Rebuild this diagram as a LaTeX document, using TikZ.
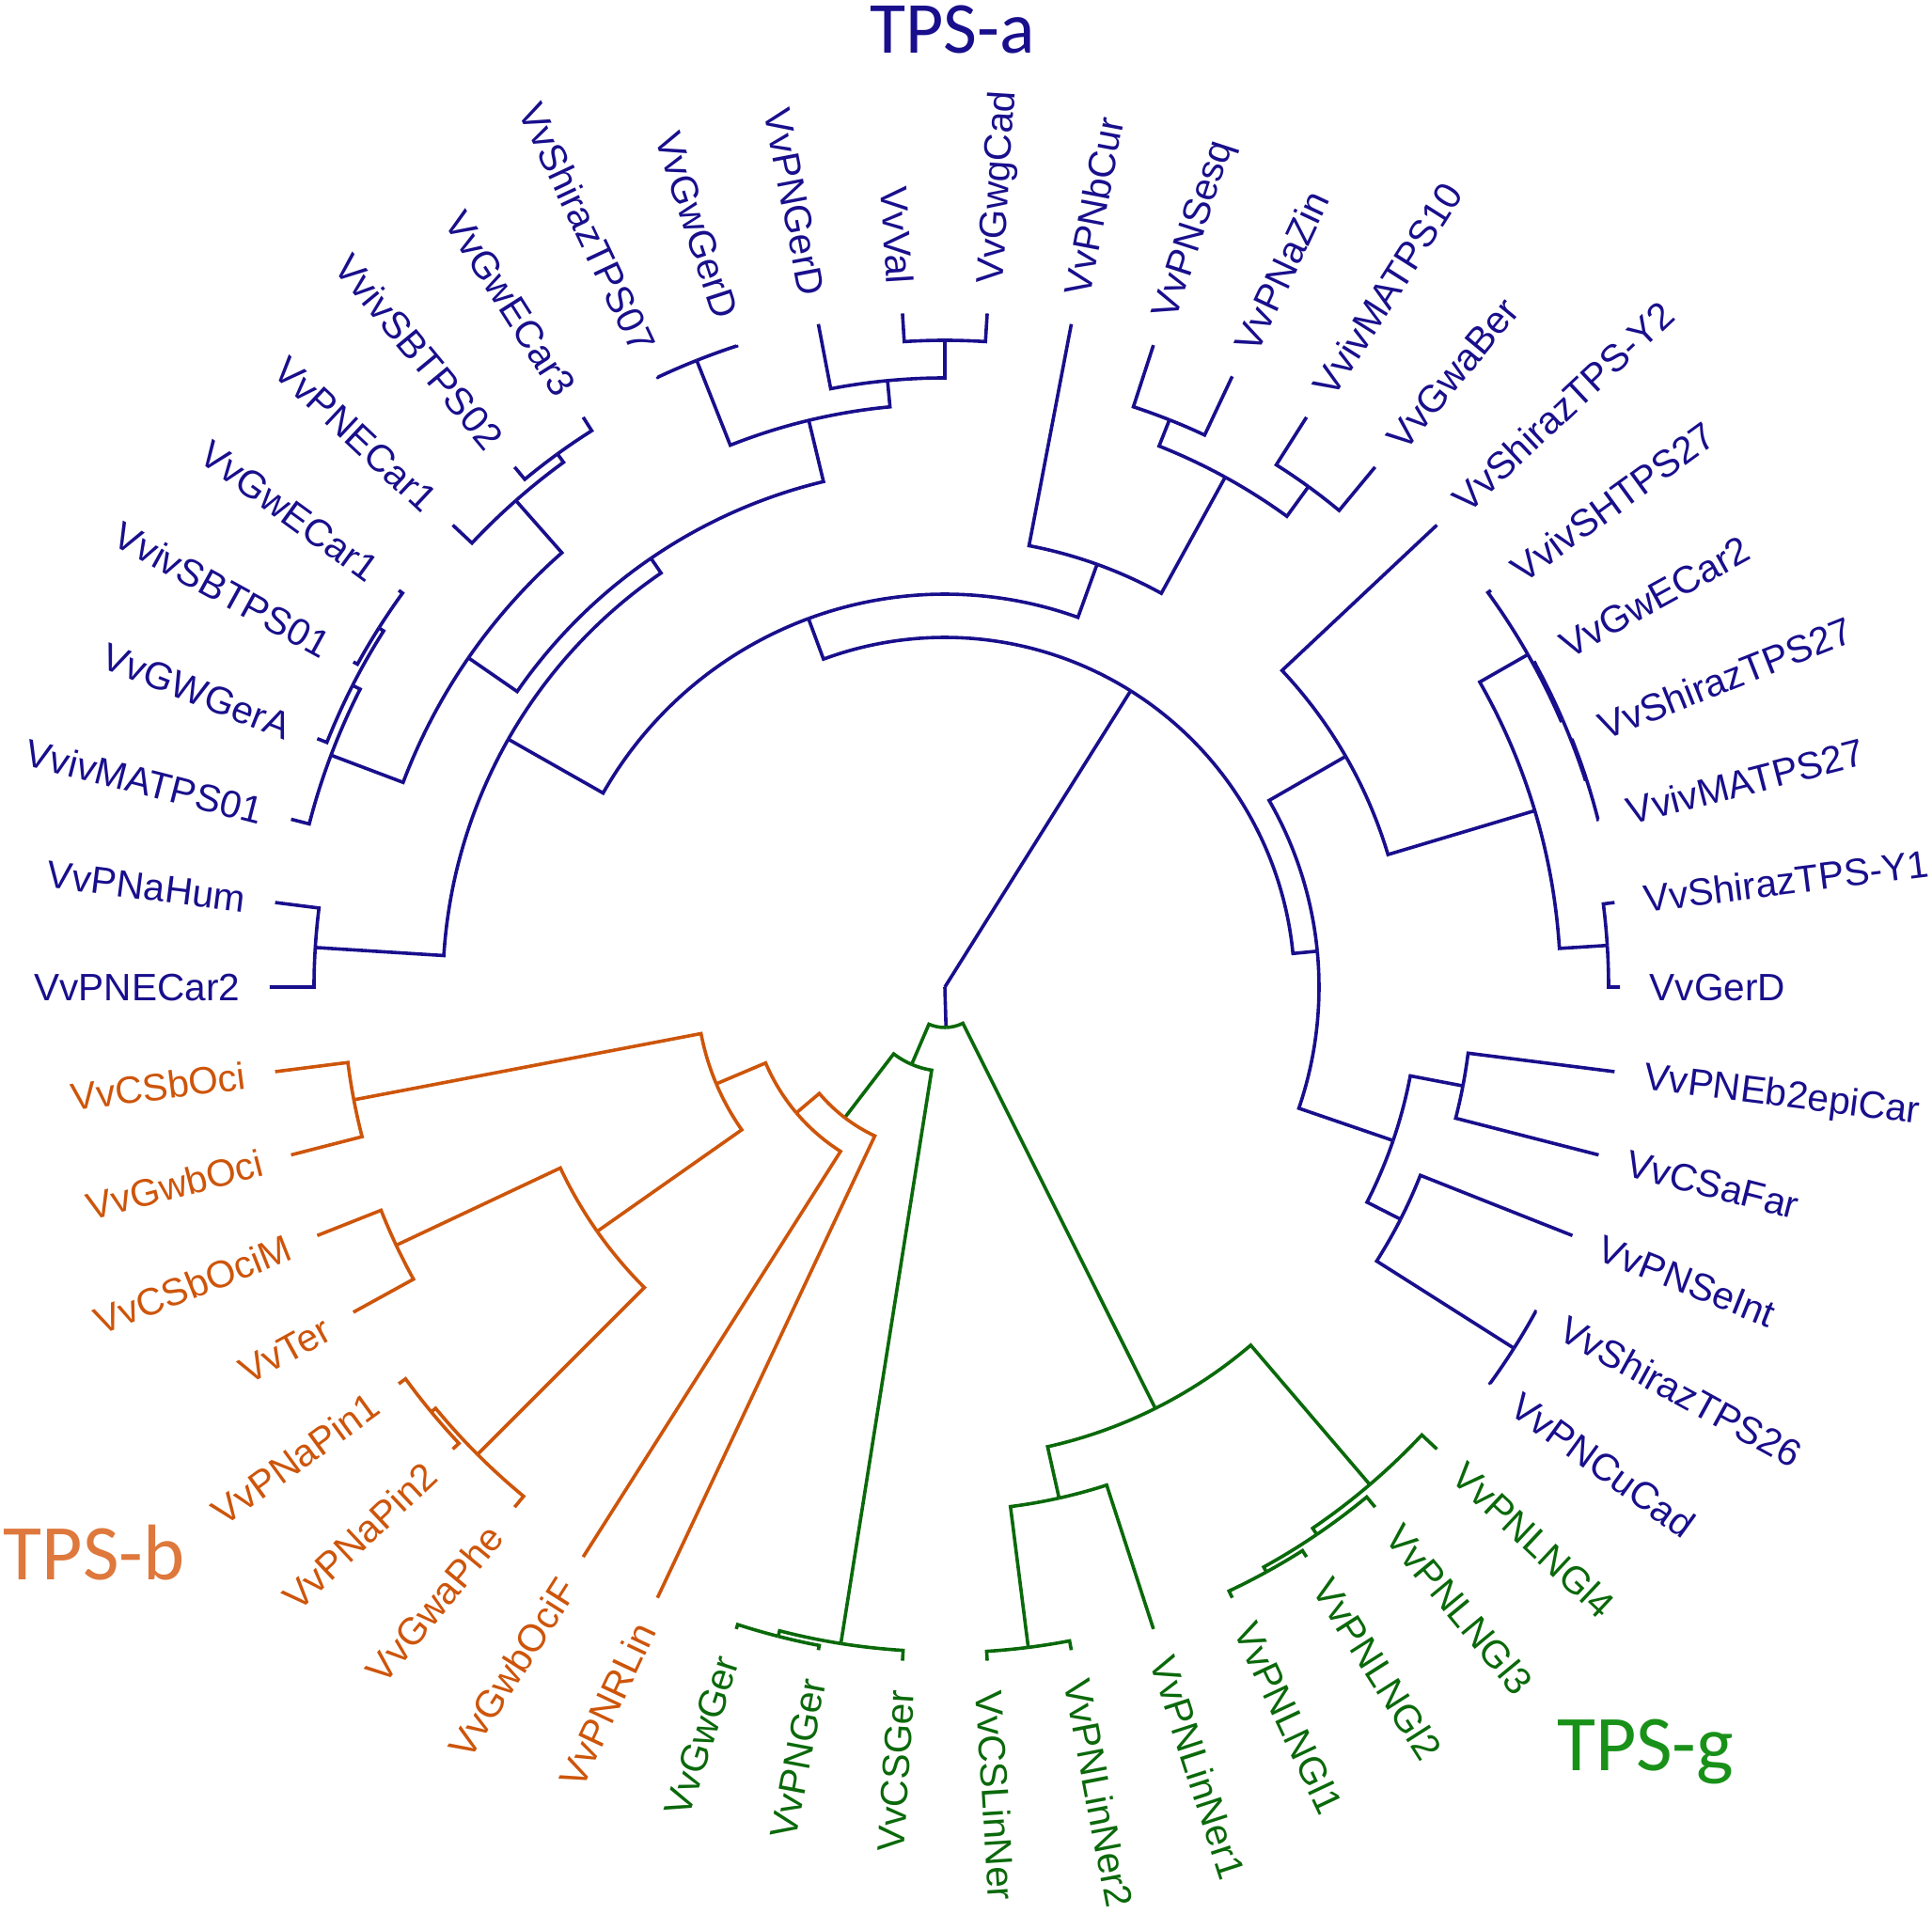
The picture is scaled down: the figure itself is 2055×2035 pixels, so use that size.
\documentclass[tikz,border=0pt]{standalone}
\usepackage{fontspec}
\setmainfont{Liberation Sans}
\newfontfamily\cladefont{Carlito}
\definecolor{cb}{RGB}{25,15,140}
\definecolor{co}{RGB}{205,85,10}
\definecolor{cg}{RGB}{10,105,10}
\definecolor{tb}{RGB}{222,120,60}
\definecolor{tg}{RGB}{25,145,25}
\newcommand\tnode[3]{\expandafter\xdef\csname tAng#1\endcsname{#2}\expandafter\xdef\csname tRad#1\endcsname{#3}\coordinate (#1) at (#2:#3pt);}
\newcommand\tbranch[3]{\draw[#3] (#1) arc[start angle=\csname tAng#1\endcsname, end angle=\csname tAng#2\endcsname, radius=\csname tRad#1\endcsname pt] -- (#2);}
\newcommand\lblR[3]{\node[lbl,text=#3,rotate=\csname tAng#1\endcsname,anchor=west] (#1t) at (\csname tAng#1\endcsname:748pt) {#2};}
\newcommand\lblL[3]{\node[lbl,text=#3,rotate={\csname tAng#1\endcsname+180},anchor=east] (#1t) at (\csname tAng#1\endcsname:748pt) {#2};}
\begin{document}
\begin{tikzpicture}[x=1pt,y=1pt,line width=3.6pt,line join=miter,
  bl/.style={draw=cb}, og/.style={draw=co}, gr/.style={draw=cg},
  lbl/.style={inner sep=0pt,font=\fontsize{40.6}{48}\selectfont,text height=29pt,text depth=0pt},
  clade/.style={inner sep=0pt,anchor=base}]
\useasboundingbox (-1005pt,-985pt) rectangle (1050pt,1050pt);
% ---- leaves ----
\tnode{l1}{180}{718}\tnode{l2}{172.8}{718}\tnode{l3}{165.6}{718}\tnode{l4}{158.4}{718}
\tnode{l5}{151.2}{718}\tnode{l6}{144}{718}\tnode{l7}{136.8}{718}\tnode{l8}{129.6}{718}
\tnode{l9}{122.4}{718}\tnode{l10}{115.2}{718}\tnode{l11}{108}{718}\tnode{l12}{100.8}{718}
\tnode{l13}{93.6}{718}\tnode{l14}{86.4}{718}\tnode{l15}{79.2}{718}\tnode{l16}{72}{718}
\tnode{l17}{64.8}{718}\tnode{l18}{57.6}{718}\tnode{l19}{50.4}{718}\tnode{l20}{43.2}{718}
\tnode{l21}{36}{718}\tnode{l22}{28.8}{718}\tnode{l23}{21.6}{718}\tnode{l24}{14.4}{718}
\tnode{l25}{7.2}{718}\tnode{l26}{0}{718}\tnode{l27}{-7.2}{718}\tnode{l28}{-14.4}{718}
\tnode{l29}{-21.6}{718}\tnode{l30}{-28.8}{718}\tnode{l31}{-36}{718}\tnode{l32}{316.8}{718}
\tnode{l33}{309.6}{718}\tnode{l34}{302.4}{718}\tnode{l35}{295.2}{718}\tnode{l36}{288}{718}
\tnode{l37}{280.8}{718}\tnode{l38}{273.6}{718}\tnode{l39}{266.4}{718}\tnode{l40}{259.2}{718}
\tnode{l41}{252}{718}\tnode{l42}{244.8}{718}\tnode{l43}{237.6}{718}\tnode{l44}{230.4}{718}
\tnode{l45}{223.2}{718}\tnode{l46}{216}{718}\tnode{l47}{208.8}{718}\tnode{l48}{201.6}{718}
\tnode{l49}{194.4}{718}\tnode{l50}{187.2}{718}
% ---- internal nodes ----
\coordinate (root) at (0,0);
\tnode{A}{57.909}{372}\tnode{B}{110.306}{418}\tnode{C}{5.5125}{398}
\tnode{S}{150.4125}{534}\tnode{N}{70.2}{478}\tnode{T}{124.425}{553}\tnode{R}{176.4}{671}
\tnode{Nb}{145.35}{616}\tnode{Q}{131.4}{690}\tnode{Qp}{126}{701}
\tnode{Nc}{159.3}{698}\tnode{Nd}{153}{707}\tnode{Ne}{147.6}{713}
\tnode{U}{103.5}{620}\tnode{UL}{111.6}{717}\tnode{V}{95.4}{648}\tnode{W}{90}{688}
\tnode{O}{61.2}{619}\tnode{P}{68.4}{649}\tnode{Qb}{54}{658}
\tnode{E}{29.925}{492}\tnode{F}{16.65}{655}\tnode{G}{29.7}{714}\tnode{H}{23.4}{716}\tnode{I}{18}{717.3}
\tnode{J}{3.6}{706}\tnode{D}{-18.9}{504}\tnode{K}{-10.8}{561}\tnode{L}{-27}{544}\tnode{M}{-32.4}{717}
\tnode{GO}{271.66}{43}\tnode{OG}{246.77}{89.5}\tnode{OGl}{232.54}{175}
\tnode{Ger}{261}{707}\tnode{GerS}{255.6}{713}
\tnode{Ga}{296.55}{501}\tnode{LN}{282.6}{557}\tnode{LNs}{277.2}{708}
\tnode{N3}{310.5}{696}\tnode{N2}{304.2}{704}\tnode{N1}{298.8}{710}
\tnode{Or1}{220.275}{207}\tnode{Or2}{202.95}{264}\tnode{Or3}{190.8}{640}\tnode{Or4}{215.1}{452}
\tnode{Or5}{205.2}{645}\tnode{Or6}{225}{703}\tnode{Or7}{219.6}{709}
% ---- blue clade ----
\draw[bl] (root) -- (A);
\draw[bl] (root) -- (GO);
\tbranch{A}{B}{bl}\tbranch{A}{C}{bl}
\tbranch{B}{S}{bl}\tbranch{B}{N}{bl}
\tbranch{S}{T}{bl}\tbranch{S}{R}{bl}
\tbranch{T}{Nb}{bl}\tbranch{T}{U}{bl}
\tbranch{Nb}{Q}{bl}\tbranch{Nb}{Nc}{bl}
\tbranch{Q}{l7}{bl}\tbranch{Q}{Qp}{bl}
\tbranch{Qp}{l8}{bl}\tbranch{Qp}{l9}{bl}
\tbranch{Nc}{l3}{bl}\tbranch{Nc}{Nd}{bl}
\tbranch{Nd}{l4}{bl}\tbranch{Nd}{Ne}{bl}
\tbranch{Ne}{l5}{bl}\tbranch{Ne}{l6}{bl}
\tbranch{U}{UL}{bl}\tbranch{U}{V}{bl}
\tbranch{UL}{l10}{bl}\tbranch{UL}{l11}{bl}
\tbranch{V}{l12}{bl}\tbranch{V}{W}{bl}
\tbranch{W}{l13}{bl}\tbranch{W}{l14}{bl}
\tbranch{R}{l1}{bl}\tbranch{R}{l2}{bl}
\tbranch{N}{l15}{bl}\tbranch{N}{O}{bl}
\tbranch{O}{P}{bl}\tbranch{O}{Qb}{bl}
\tbranch{P}{l16}{bl}\tbranch{P}{l17}{bl}
\tbranch{Qb}{l18}{bl}\tbranch{Qb}{l19}{bl}
\tbranch{C}{E}{bl}\tbranch{C}{D}{bl}
\tbranch{E}{l20}{bl}\tbranch{E}{F}{bl}
\tbranch{F}{G}{bl}\tbranch{F}{J}{bl}
\tbranch{G}{l21}{bl}\tbranch{G}{H}{bl}
\tbranch{H}{l22}{bl}\tbranch{H}{I}{bl}
\tbranch{I}{l23}{bl}\tbranch{I}{l24}{bl}
\tbranch{J}{l25}{bl}\tbranch{J}{l26}{bl}
\tbranch{D}{K}{bl}\tbranch{D}{L}{bl}
\tbranch{K}{l27}{bl}\tbranch{K}{l28}{bl}
\tbranch{L}{l29}{bl}\tbranch{L}{M}{bl}
\tbranch{M}{l30}{bl}\tbranch{M}{l31}{bl}
% ---- green ----
\tbranch{GO}{OG}{gr}\tbranch{GO}{Ga}{gr}
\tbranch{OG}{OGl}{gr}\tbranch{OG}{Ger}{gr}
\tbranch{Ger}{GerS}{gr}\tbranch{Ger}{l39}{gr}
\tbranch{GerS}{l40}{gr}\tbranch{GerS}{l41}{gr}
\tbranch{Ga}{LN}{gr}\tbranch{Ga}{N3}{gr}
\tbranch{LN}{LNs}{gr}\tbranch{LN}{l36}{gr}
\tbranch{LNs}{l37}{gr}\tbranch{LNs}{l38}{gr}
\tbranch{N3}{N2}{gr}\tbranch{N3}{l32}{gr}
\tbranch{N2}{N1}{gr}\tbranch{N2}{l33}{gr}
\tbranch{N1}{l34}{gr}\tbranch{N1}{l35}{gr}
% ---- orange ----
\tbranch{OGl}{Or1}{og}\tbranch{OGl}{l42}{og}
\tbranch{Or1}{Or2}{og}\tbranch{Or1}{l43}{og}
\tbranch{Or2}{Or3}{og}\tbranch{Or2}{Or4}{og}
\tbranch{Or3}{l49}{og}\tbranch{Or3}{l50}{og}
\tbranch{Or4}{Or5}{og}\tbranch{Or4}{Or6}{og}
\tbranch{Or5}{l47}{og}\tbranch{Or5}{l48}{og}
\tbranch{Or6}{Or7}{og}\tbranch{Or6}{l44}{og}
\tbranch{Or7}{l45}{og}\tbranch{Or7}{l46}{og}
% ---- labels ----
\lblL{l1}{VvPNECar2}{cb}\lblL{l2}{VvPNaHum}{cb}\lblL{l3}{VvivMATPS01}{cb}
\lblL{l4}{VvGWGerA}{cb}\lblL{l5}{VvivSBTPS01}{cb}\lblL{l6}{VvGwECar1}{cb}
\lblL{l7}{VvPNECar1}{cb}\lblL{l8}{VvivSBTPS02}{cb}\lblL{l9}{VvGwECar3}{cb}
\lblL{l10}{VvShirazTPS07}{cb}\lblL{l11}{VvGwGerD}{cb}\lblL{l12}{VvPNGerD}{cb}
\lblL{l13}{VvVal}{cb}
\lblR{l14}{VvGwgCad}{cb}\lblR{l15}{VvPNbCur}{cb}\lblR{l16}{VvPNSesq}{cb}
\lblR{l17}{VvPNaZin}{cb}\lblR{l18}{VvivMATPS10}{cb}\lblR{l19}{VvGwaBer}{cb}
\lblR{l20}{VvShirazTPS-Y2}{cb}\lblR{l21}{VvivSHTPS27}{cb}\lblR{l22}{VvGwECar2}{cb}
\lblR{l23}{VvShirazTPS27}{cb}\lblR{l24}{VvivMATPS27}{cb}\lblR{l25}{VvShirazTPS-Y1}{cb}
\lblR{l26}{VvGerD}{cb}\lblR{l27}{VvPNEb2epiCar}{cb}\lblR{l28}{VvCSaFar}{cb}
\lblR{l29}{VvPNSeInt}{cb}\lblR{l30}{VvShirazTPS26}{cb}\lblR{l31}{VvPNCuCad}{cb}
\lblR{l32}{VvPNLNGl4}{cg}\lblR{l33}{VvPNLNGl3}{cg}\lblR{l34}{VvPNLNGl2}{cg}
\lblR{l35}{VvPNLNGl1}{cg}\lblR{l36}{VvPNLinNer1}{cg}\lblR{l37}{VvPNLinNer2}{cg}
\lblR{l38}{VvCSLinNer}{cg}
\lblL{l39}{VvCSGer}{cg}\lblL{l40}{VvPNGer}{cg}\lblL{l41}{VvGwGer}{cg}
\lblL{l42}{VvPNRLin}{co}\lblL{l43}{VvGwbOciF}{co}\lblL{l44}{VvGwaPhe}{co}
\lblL{l45}{VvPNaPin2}{co}\lblL{l46}{VvPNaPin1}{co}\lblL{l47}{VvTer}{co}
\lblL{l48}{VvCSbOciM}{co}\lblL{l49}{VvGwbOci}{co}\lblL{l50}{VvCSbOci}{co}
% ---- clade titles ----
\node[clade,text=cb,font=\cladefont\fontsize{78}{90}\selectfont] (ta) at (8pt,993pt) {TPS-a};
\node[clade,text=tb,font=\cladefont\fontsize{84}{96}\selectfont] (tbb) at (-905pt,-630pt) {TPS-b};
\node[clade,text=tg,font=\cladefont\fontsize{84}{96}\selectfont] (tgg) at (745pt,-833pt) {TPS-g};
\end{tikzpicture}
\end{document}
